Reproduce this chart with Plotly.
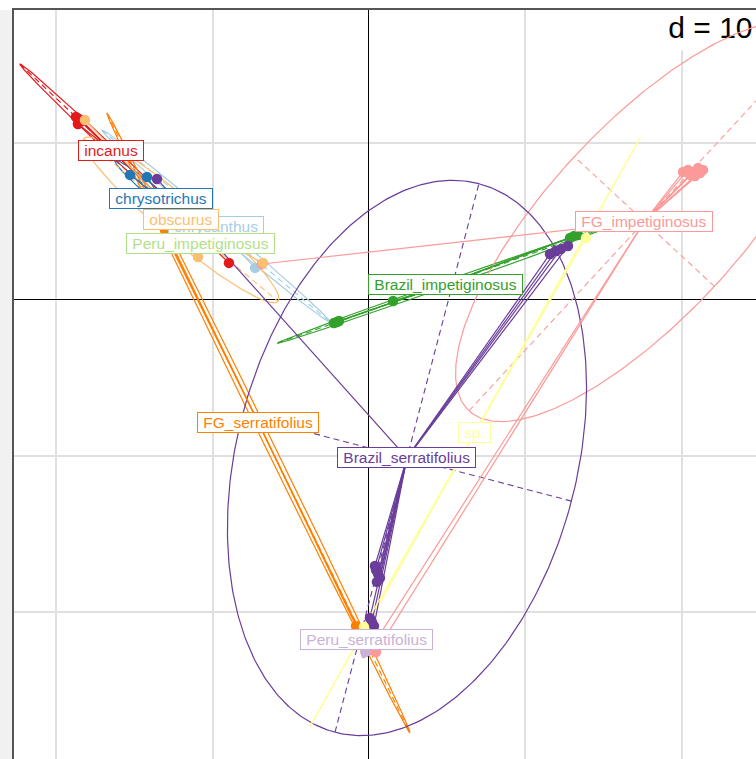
import numpy as np
import plotly.graph_objects as go

# Group names and their colours (RColorBrewer "Paired")
groups = ["chrysanthus", "chrysotrichus", "Peru_impetiginosus", "Brazil_impetiginosus",
          "FG_impetiginosus", "incanus", "obscurus", "FG_serratifolius",
          "Peru_serratifolius", "Brazil_serratifolius", "sp."]
colors = ["#A6CEE3", "#1F78B4", "#B2DF8A", "#33A02C", "#FB9A99", "#E31A1C",
          "#FDBF6F", "#FF7F00", "#CAB2D6", "#6A3D9A", "#FFFF99"]

# Group centroids on axes 1 and 2
center_x = [-9.79, -13.31, -10.81, 4.89, 17.62, -16.51, -12.03, -7.07, -0.16, 2.43, 6.78]
center_y = [4.70, 6.43, 3.55, 0.99, 4.99, 9.56, 5.09, -7.90, -21.75, -10.14, -8.51]

# Inertia ellipses: semi-axes and orientation (degrees)
ellipse_a = [9.53, 3.84, 0.60, 11.39, 16.51, 8.00, 8.11, 22.07, 1.20, 18.14, 21.61]
ellipse_b = [0.32, 0.38, 0.15, 0.19, 6.11, 0.26, 1.30, 0.28, 0.30, 10.88, 0.04]
ellipse_angle = [-40.1, -40.0, -16.0, 19.4, 47.2, -43.4, -40.0, -63.95, 80.0, 75.3, 60.7]

# Individual scores (group index, axis 1, axis 2)
point_group = [0, 0,
               1, 1, 1, 1,
               2, 2,
               3, 3, 3, 3, 3, 3, 3,
               4, 4, 4, 4, 4, 4, 4, 4, 4, 4, 4,
               5, 5, 5, 5, 5,
               6, 6, 6,
               7, 7, 7, 7, 7, 7,
               8, 8, 8,
               9, 9, 9, 9, 9, 9, 9, 9, 9, 9, 9, 9, 9,
               10, 10]
point_x = [-7.29, -12.22,
           -15.29, -14.20, -11.70, -12.05,
           -11.26, -10.36,
           -2.24, -2.05, -1.92, 1.54, 12.86, 13.12, 13.37,
           20.09, 20.41, 20.73, 21.05, 21.37, 20.54, 20.86, 21.18, -6.85, 0.06, 0.45,
           -18.75, -18.55, -18.36, -18.62, -8.96,
           -18.17, -10.94, -6.78,
           -13.69, -13.37, -13.05, -0.83, -0.51, -0.19,
           -0.30, 0.05, -0.23,
           -13.56, 11.58, 11.96, 12.28, 12.73, 0.45, 0.58, 0.70, 0.51, 0.38, 0.06, 0.19, 0.32,
           13.88, -0.32]
point_y = [2.02, 6.37,
           7.97, 7.84, 5.00, 4.91,
           3.68, 3.42,
           -1.50, -1.44, -1.38, -0.10, 3.93, 4.06, 4.13,
           8.16, 8.29, 8.16, 8.41, 8.29, 7.97, 7.90, 8.09, 2.27, -22.42, -22.55,
           11.68, 11.55, 11.42, 11.23, 2.34,
           11.48, 2.72, 2.34,
           5.47, 4.96, 4.45, -20.89, -21.46, -22.04,
           -21.20, -21.50, -22.55,
           7.71, 2.91, 3.10, 3.23, 3.42, -17.31, -17.56, -17.82, -18.07, -17.05, -20.38, -20.63, -20.89,
           3.93, -20.95]

grid_step = 10
x_range = [-22.71, 24.76]
y_range = [-29.40, 18.52]

FONT = "Liberation Sans, Arial, sans-serif"

fig = go.Figure()

# scale label, placed in the upper right corner
fig.add_trace(go.Scatter(
    x=[19.15], y=[17.2], mode="text", text=["d = %d" % grid_step],
    textposition="middle right", textfont=dict(size=30, color="black", family=FONT),
    hoverinfo="skip", showlegend=False))

t = np.linspace(0, 2 * np.pi, 361)

# ellipses and their axes
for g, col in enumerate(colors):
    cx, cy = center_x[g], center_y[g]
    a, b = ellipse_a[g], ellipse_b[g]
    th = np.deg2rad(ellipse_angle[g])
    ux, uy = np.cos(th), np.sin(th)
    vx, vy = -np.sin(th), np.cos(th)
    ex = cx + a * np.cos(t) * ux + b * np.sin(t) * vx
    ey = cy + a * np.cos(t) * uy + b * np.sin(t) * vy
    fig.add_trace(go.Scatter(x=ex, y=ey, mode="lines", line=dict(color=col, width=1.2),
                             hoverinfo="skip", showlegend=False))
    axx = [cx - a * ux, cx + a * ux, None, cx - b * vx, cx + b * vx]
    axy = [cy - a * uy, cy + a * uy, None, cy - b * vy, cy + b * vy]
    fig.add_trace(go.Scatter(x=axx, y=axy, mode="lines",
                             line=dict(color=col, width=1.1, dash="6px,4px"),
                             hoverinfo="skip", showlegend=False))

# stars: centroid to every individual
for g, col in enumerate(colors):
    sx, sy = [], []
    for k, gi in enumerate(point_group):
        if gi == g:
            sx += [center_x[g], point_x[k], None]
            sy += [center_y[g], point_y[k], None]
    fig.add_trace(go.Scatter(x=sx, y=sy, mode="lines", line=dict(color=col, width=1.2),
                             hoverinfo="skip", showlegend=False))

# individual points
for g, col in enumerate(colors):
    px = [point_x[k] for k, gi in enumerate(point_group) if gi == g]
    py = [point_y[k] for k, gi in enumerate(point_group) if gi == g]
    fig.add_trace(go.Scatter(x=px, y=py, mode="markers",
                             marker=dict(color=col, size=10.5, line=dict(width=0)),
                             name=groups[g], showlegend=False))

# group labels at the centroids
for g, col in enumerate(colors):
    fig.add_annotation(x=center_x[g], y=center_y[g], text=" " + groups[g] + " ",
                       showarrow=False, xanchor="center", yanchor="middle",
                       font=dict(size=15.5, color=col, family=FONT),
                       bgcolor="white", bordercolor=col, borderwidth=1, borderpad=1)

shapes = [
    # white box behind the scale label
    dict(type="rect", xref="x", yref="y", x0=18.3, x1=26, y0=15.95, y1=19.5,
         fillcolor="white", line=dict(width=0), layer="between"),
    # grey strip left of the frame
    dict(type="rect", xref="paper", yref="paper", x0=-14 / 742, x1=-0.001, y0=0, y1=1,
         fillcolor="#f1f1f1", line=dict(width=0), layer="below"),
]

fig.update_layout(
    width=756, height=759, autosize=False,
    margin=dict(l=14, r=0, t=10, b=0),
    paper_bgcolor="white", plot_bgcolor="white",
    shapes=shapes,
    xaxis=dict(range=x_range, tick0=0, dtick=grid_step, showgrid=True,
               gridcolor="#e0e0e0", gridwidth=2, zeroline=True, zerolinecolor="black",
               zerolinewidth=1.2, showticklabels=False, ticks="", showline=True,
               side="top", linecolor="#555555", linewidth=1.5, fixedrange=True),
    yaxis=dict(range=y_range, tick0=0, dtick=grid_step, showgrid=True,
               gridcolor="#e0e0e0", gridwidth=2, zeroline=True, zerolinecolor="black",
               zerolinewidth=1.2, showticklabels=False, ticks="", showline=True,
               side="left", linecolor="#555555", linewidth=1.5, fixedrange=True),
)

fig.write_html("out.html")
